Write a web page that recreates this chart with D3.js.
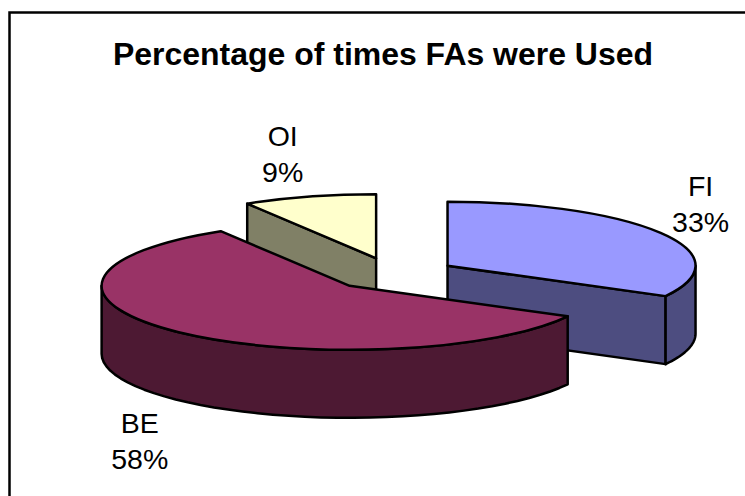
<!DOCTYPE html>
<html>
<head>
<meta charset="utf-8">
<style>
  html, body { margin: 0; padding: 0; background: #fff; }
  svg { display: block; }
  text { font-family: "Liberation Sans", Arial, sans-serif; fill: #000; }
</style>
<script src="https://cdn.jsdelivr.net/npm/d3@7"></script>
</head>
<body>
<svg id="drawing_region"></svg>
<script>
const title = "Percentage of times FAs were Used";
const categories = ["FI", "BE", "OI"];
const shares = [0.329, 0.584, 0.087];
const topColors = ["#9999ff", "#993366", "#ffffcc"];
const sideColors = ["#4d4d80", "#4d1933", "#808066"];

const width = 745, height = 496;
const center = {x: 393.2, y: 274};
const rx = 248, ry = 64, depth = 68;
const explode = 0.255;
// label shift away from the rim of each slice
const labelShift = [[40, -37], [-39, 101], [-26.5, -50.5]];

const svg = d3.select("#drawing_region")
    .attr("width", width)
    .attr("height", height);

// chart frame runs off the right and bottom of the picture
svg.append("rect")
    .attr("x", 9.5).attr("y", 12.5)
    .attr("width", width + 20).attr("height", height + 20)
    .attr("fill", "#fff")
    .attr("stroke", "#000")
    .attr("stroke-width", 2.5);

svg.append("text")
    .attr("x", 383).attr("y", 65)
    .attr("text-anchor", "middle")
    .attr("font-size", 31)
    .attr("font-weight", "bold")
    .attr("textLength", 540)
    .attr("lengthAdjust", "spacingAndGlyphs")
    .text(title);

const slices = d3.pie().sort(null).value(d => d)(shares)
    .map((s, i) => {
        const mid = (s.startAngle + s.endAngle) / 2;
        return {
            ...s,
            i: i,
            mid: mid,
            cx: center.x + explode * rx * Math.sin(mid),
            cy: center.y - explode * ry * Math.cos(mid)
        };
    });

const arc = d3.arc().innerRadius(0).outerRadius(rx);
const line = d3.line();
const rim = (s, a, dz) => [s.cx + rx * Math.sin(a), s.cy - ry * Math.cos(a) + dz];

// side wall along the outer rim between two angles
function rimWall(s, a0, a1) {
    const angles = d3.range(41).map(k => a0 + (a1 - a0) * k / 40);
    const pts = angles.map(a => rim(s, a, 0))
        .concat(angles.slice().reverse().map(a => rim(s, a, depth)));
    return line(pts) + "Z";
}

// flat cut wall from the apex to the rim
function cutWall(s, a) {
    const p = rim(s, a, 0);
    return line([[s.cx, s.cy], p, [p[0], p[1] + depth], [s.cx, s.cy + depth]]) + "Z";
}

const drawSide = (s, d) => svg.append("path")
    .attr("d", d)
    .attr("fill", sideColors[s.i])
    .attr("stroke", "#000")
    .attr("stroke-width", 2.5)
    .attr("stroke-linejoin", "round");

const drawTop = s => svg.append("path")
    .attr("transform", `translate(${s.cx},${s.cy}) scale(1,${ry / rx})`)
    .attr("d", arc(s))
    .attr("fill", topColors[s.i])
    .attr("stroke", "#000")
    .attr("stroke-width", 2.5)
    .attr("stroke-linejoin", "round")
    .attr("vector-effect", "non-scaling-stroke");

const [fi, be, oi] = slices;

// back to front: OI, FI, BE
drawSide(oi, cutWall(oi, oi.startAngle));
drawTop(oi);

drawSide(fi, cutWall(fi, fi.endAngle));
drawSide(fi, rimWall(fi, Math.PI / 2, fi.endAngle));
drawTop(fi);

drawSide(be, rimWall(be, be.startAngle, 3 * Math.PI / 2));
drawTop(be);

const pct = d3.format(".0%");
slices.forEach(s => {
    const p = rim(s, s.mid, 0);
    const x = p[0] + labelShift[s.i][0], y = p[1] + labelShift[s.i][1];
    const label = svg.append("text")
        .attr("text-anchor", "middle")
        .attr("font-size", 28.5);
    label.append("tspan").attr("x", x).attr("y", y).text(categories[s.i]);
    label.append("tspan").attr("x", x).attr("y", y + 36).text(pct(shares[s.i]));
});
</script>
</body>
</html>
